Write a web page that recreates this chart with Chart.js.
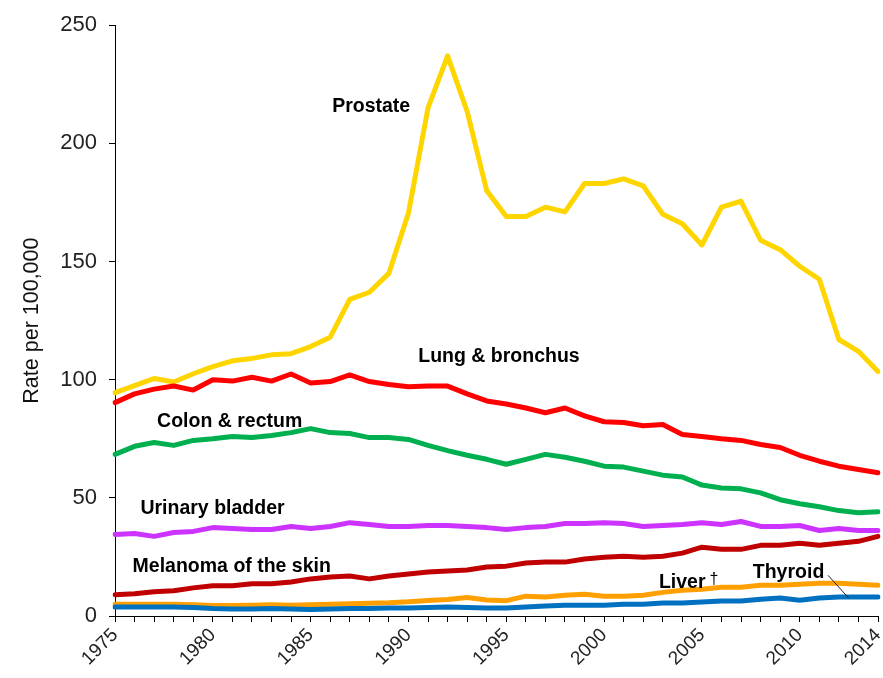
<!DOCTYPE html>
<html>
<head>
<meta charset="utf-8">
<script src="https://cdn.jsdelivr.net/npm/chart.js@4/dist/chart.umd.min.js"></script>
<style>
  html, body { margin: 0; padding: 0; background: #fff; }
  #wrap { width: 883px; height: 678px; }
</style>
</head>
<body>
<div id="wrap"><canvas id="myChart" width="883" height="678"></canvas></div>
<script>
// Years on the x axis, one point per year.
const years = ['1975','1976','1977','1978','1979','1980','1981','1982','1983','1984',
    '1985','1986','1987','1988','1989','1990','1991','1992','1993','1994',
    '1995','1996','1997','1998','1999','2000','2001','2002','2003','2004',
    '2005','2006','2007','2008','2009','2010','2011','2012','2013','2014'];
const xTickLabels = ['1975','1980','1985','1990','1995','2000','2005','2010','2014'];
const yTicks = [0, 50, 100, 150, 200, 250];

// Rates per 100,000.
const prostate = [94.5, 97.5, 100.5, 99, 102.5, 105.5, 108, 109, 110.5, 111,
    114, 118, 134, 137, 145, 170.5, 215, 237, 213.5, 180,
    169, 169, 173, 171, 183, 183, 185, 182, 170, 166,
    157, 173, 175.5, 159, 155, 148, 142.5, 117, 112, 103.5];
const lung = [90.3, 94, 96, 97.3, 95.6, 100, 99.4, 101, 99.4, 102.4,
    98.6, 99.2, 102, 99.2, 98, 97, 97.3, 97.3, 94, 91,
    89.7, 88, 86, 88, 84.7, 82.2, 81.9, 80.5, 81, 76.8,
    76, 75, 74.3, 72.6, 71.3, 68, 65.5, 63.4, 62, 60.6];
const colon = [68.4, 71.8, 73.4, 72.2, 74.3, 75, 76, 75.5, 76.4, 77.6,
    79.3, 77.6, 77.2, 75.5, 75.5, 74.7, 72.2, 70, 68, 66.3,
    64.2, 66.3, 68.4, 67.2, 65.5, 63.4, 63, 61.3, 59.6, 58.8,
    55.4, 54.2, 53.8, 52.1, 49.2, 47.5, 46.2, 44.6, 43.7, 44.1];
const bladder = [34.5, 34.9, 33.7, 35.3, 35.8, 37.4, 37, 36.6, 36.6, 37.9,
    37, 37.9, 39.5, 38.7, 37.9, 37.9, 38.3, 38.3, 37.9, 37.4,
    36.6, 37.4, 37.9, 39.1, 39.1, 39.5, 39.1, 37.9, 38.3, 38.7,
    39.5, 38.7, 40, 37.9, 37.9, 38.3, 36.2, 37, 36.2, 36.2];
const melanoma = [9, 9.4, 10.3, 10.7, 11.9, 12.8, 12.8, 13.6, 13.6, 14.4,
    15.7, 16.5, 16.9, 15.7, 16.9, 17.8, 18.6, 19, 19.5, 20.7,
    21.1, 22.4, 22.8, 22.8, 24.1, 24.9, 25.3, 24.9, 25.3, 26.6,
    29.1, 28.2, 28.2, 29.9, 29.9, 30.8, 29.9, 30.8, 31.6, 33.7];
const liver = [5, 5, 5, 5, 4.8, 4.4, 4.4, 4.6, 4.8, 4.6,
    4.8, 5, 5.2, 5.4, 5.6, 6, 6.6, 7, 7.8, 6.8,
    6.5, 8.4, 8, 8.8, 9.2, 8.4, 8.4, 8.8, 10, 10.9,
    11.3, 12.2, 12.2, 13, 13, 13.4, 13.9, 13.9, 13.4, 13];
const thyroid = [3.8, 3.8, 3.8, 3.8, 3.6, 3.2, 3, 3, 3.2, 3,
    2.8, 3, 3.2, 3.2, 3.4, 3.4, 3.6, 3.8, 3.6, 3.4,
    3.4, 3.8, 4.2, 4.6, 4.6, 4.6, 5, 5, 5.5, 5.5,
    5.9, 6.3, 6.3, 7.1, 7.6, 6.7, 7.6, 8, 8, 8];

// Series labels: text, year, rate (where the text starts and its middle)
const seriesLabels = [
    ['Prostate', 1986.1, 215.5],
    ['Lung & bronchus', 1990.5, 109.7],
    ['Colon & rectum', 1977.15, 82.4],
    ['Urinary bladder', 1976.3, 45.4],
    ['Melanoma of the skin', 1975.9, 21],
    ['Liver', 2002.8, 14.3],
    ['Thyroid', 2007.6, 18.5]
];
// thin pointer from the Thyroid label down to its line
const thyroidPointer = [[2011.45, 17.2], [2012.5, 7.6]];

const FONT = "'Liberation Sans', Arial, sans-serif";

function line(label, data, color) {
    return {
        label: label,
        data: data,
        borderColor: color,
        backgroundColor: color,
        borderWidth: 5,
        pointRadius: 0,
        tension: 0,
        borderJoinStyle: 'round',
        borderCapStyle: 'round',
        fill: false
    };
}

// Draws the series names inside the plot.
const labelPlugin = {
    id: 'labelPlugin',
    afterDatasetsDraw(chart) {
        const ctx = chart.ctx;
        const xs = chart.scales.x, ys = chart.scales.y;
        const x0 = xs.getPixelForValue(0), x1 = xs.getPixelForValue(years.length - 1);
        const xAt = yr => x0 + (yr - 1975) / (years.length - 1) * (x1 - x0);

        ctx.save();
        ctx.fillStyle = '#000';
        ctx.textBaseline = 'middle';
        ctx.textAlign = 'left';
        ctx.font = 'bold 19.5px ' + FONT;
        let liverEnd = 0, liverY = 0;
        seriesLabels.forEach(l => {
            const px = xAt(l[1]), py = ys.getPixelForValue(l[2]);
            ctx.fillText(l[0], px, py);
            if (l[0] === 'Liver') {
                liverEnd = px + ctx.measureText(l[0]).width;
                liverY = py;
            }
        });
        // the dagger after Liver
        ctx.font = '16px ' + FONT;
        ctx.fillText('\u2020', liverEnd + 4, liverY - 3);

        ctx.strokeStyle = '#222';
        ctx.lineWidth = 1;
        ctx.beginPath();
        ctx.moveTo(xAt(thyroidPointer[0][0]), ys.getPixelForValue(thyroidPointer[0][1]));
        ctx.lineTo(xAt(thyroidPointer[1][0]), ys.getPixelForValue(thyroidPointer[1][1]));
        ctx.stroke();
        ctx.restore();
    }
};

const data = {
    labels: years,
    datasets: [
        line('Thyroid', thyroid, '#0070C0'),
        line('Liver', liver, '#FFA000'),
        line('Melanoma of the skin', melanoma, '#C00000'),
        line('Urinary bladder', bladder, '#CC33FF'),
        line('Colon & rectum', colon, '#00B050'),
        line('Lung & bronchus', lung, '#FF0000'),
        line('Prostate', prostate, '#FFD500')
    ]
};

const config = {
    type: 'line',
    data: data,
    options: {
        responsive: false,
        animation: false,
        layout: { padding: { top: 20, right: 5, left: 0, bottom: 0 } },
        plugins: {
            legend: { display: false },
            tooltip: { enabled: false }
        },
        scales: {
            x: {
                type: 'category',
                offset: false,
                grid: {
                    display: true,
                    drawOnChartArea: false,
                    drawTicks: true,
                    tickLength: 6,
                    color: '#000'
                },
                border: { display: true, color: '#000', width: 1 },
                ticks: {
                    autoSkip: false,
                    maxRotation: 45,
                    minRotation: 45,
                    padding: 2,
                    color: '#222',
                    font: { family: FONT, size: 19 },
                    callback: function(v, i) {
                        return xTickLabels.includes(years[i]) ? years[i] : '';
                    }
                },
                afterFit: function(scale) {
                    scale.height = 62;
                    scale.paddingLeft = 0;
                    scale.paddingRight = 0;
                }
            },
            y: {
                min: 0,
                max: 250,
                afterBuildTicks: function(scale) {
                    scale.ticks = yTicks.map(v => ({ value: v }));
                },
                grid: {
                    display: true,
                    drawOnChartArea: false,
                    drawTicks: true,
                    tickLength: 6,
                    color: '#000'
                },
                border: { display: true, color: '#000', width: 1 },
                ticks: {
                    padding: 12,
                    color: '#222',
                    font: { family: FONT, size: 22 }
                },
                title: {
                    display: true,
                    text: 'Rate per 100,000',
                    color: '#111',
                    font: { family: FONT, size: 21.5 },
                    padding: { top: 19, bottom: 0 }
                },
                afterFit: function(scale) { scale.width = 115; }
            }
        }
    },
    plugins: [labelPlugin]
};

const chart = new Chart(document.getElementById('myChart'), config);
</script>
</body>
</html>
